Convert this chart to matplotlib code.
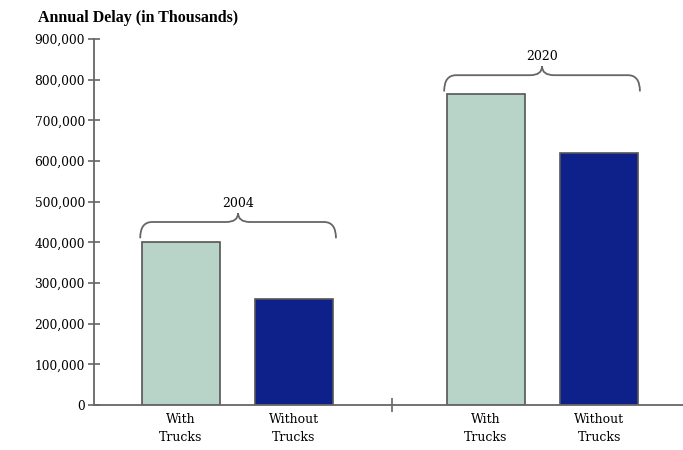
import matplotlib
matplotlib.use("Agg")
import matplotlib.pyplot as plt
from matplotlib.path import Path
from matplotlib.patches import PathPatch

groups = ["2004", "2020"]
categories = ["With\nTrucks", "Without\nTrucks"]
with_trucks = [400000, 765000]
without_trucks = [260000, 620000]
yticks = [0, 100000, 200000, 300000, 400000, 500000, 600000, 700000, 800000, 900000]

plt.rcParams['font.family'] = ['DejaVu Serif']

fig = plt.figure(figsize=(6.83, 4.5), dpi=100)
ax = fig.add_axes([94/683, 45/450, 1 - 94/683, 366/450])
ax.set_xlim(0, 589/298)
ax.set_ylim(0, 900000)

light = "#b8d4c8"
dark = "#0e218a"
edge = "#555555"
w = 0.262
pos_with = [0.292, 1.315]
pos_without = [0.670, 1.695]
ax.bar(pos_with, with_trucks, width=w, color=light, edgecolor=edge, linewidth=1.2, zorder=2)
ax.bar(pos_without, without_trucks, width=w, color=dark, edgecolor=edge, linewidth=1.2, zorder=2)

for s in ["top", "right"]:
    ax.spines[s].set_visible(False)
for s in ["left", "bottom"]:
    ax.spines[s].set_color("#666666")
    ax.spines[s].set_linewidth(1.3)

ax.set_yticks(yticks)
ax.set_yticklabels([f"{v:,}" for v in yticks], fontsize=8.8)
ax.tick_params(axis="y", direction="inout", length=9, width=1.2, color="#666666", pad=2)
ax.set_xticks([1.0])
ax.set_xticklabels([""])
ax.tick_params(axis="x", direction="inout", length=10, width=1.2, color="#666666")

for p, lab in zip(pos_with + pos_without, categories[:1]*2 + categories[1:]*2):
    ax.text(p, -20000, lab, ha="center", va="top", fontsize=9, linespacing=1.5)

def brace(x0, x1, y, h, r, cusp):
    xm = (x0 + x1) / 2
    verts = [(x0, y - h), (x0, y), (x0 + r, y),
             (xm - r, y), (xm, y), (xm, y + cusp),
             (xm, y), (xm + r, y),
             (x1 - r, y), (x1, y), (x1, y - h)]
    codes = [Path.MOVETO, Path.CURVE3, Path.CURVE3,
             Path.LINETO, Path.CURVE3, Path.CURVE3,
             Path.CURVE3, Path.CURVE3,
             Path.LINETO, Path.CURVE3, Path.CURVE3]
    ax.add_patch(PathPatch(Path(verts, codes), fill=False, edgecolor="#666666", linewidth=1.3, zorder=3))

brace(0.155, 0.812, 450000, 40000, 0.04, 22000)
ax.text(0.4835, 480000, groups[0], ha="center", va="bottom", fontsize=9)
brace(1.175, 1.832, 811000, 40000, 0.04, 22000)
ax.text(1.5035, 841000, groups[1], ha="center", va="bottom", fontsize=9)

fig.text(38/683, 1 - 18/450, "Annual Delay (in Thousands)", fontsize=11.5, fontweight="bold",
         va="center", ha="left", family="Liberation Serif")

fig.savefig("out.png", dpi=100)
